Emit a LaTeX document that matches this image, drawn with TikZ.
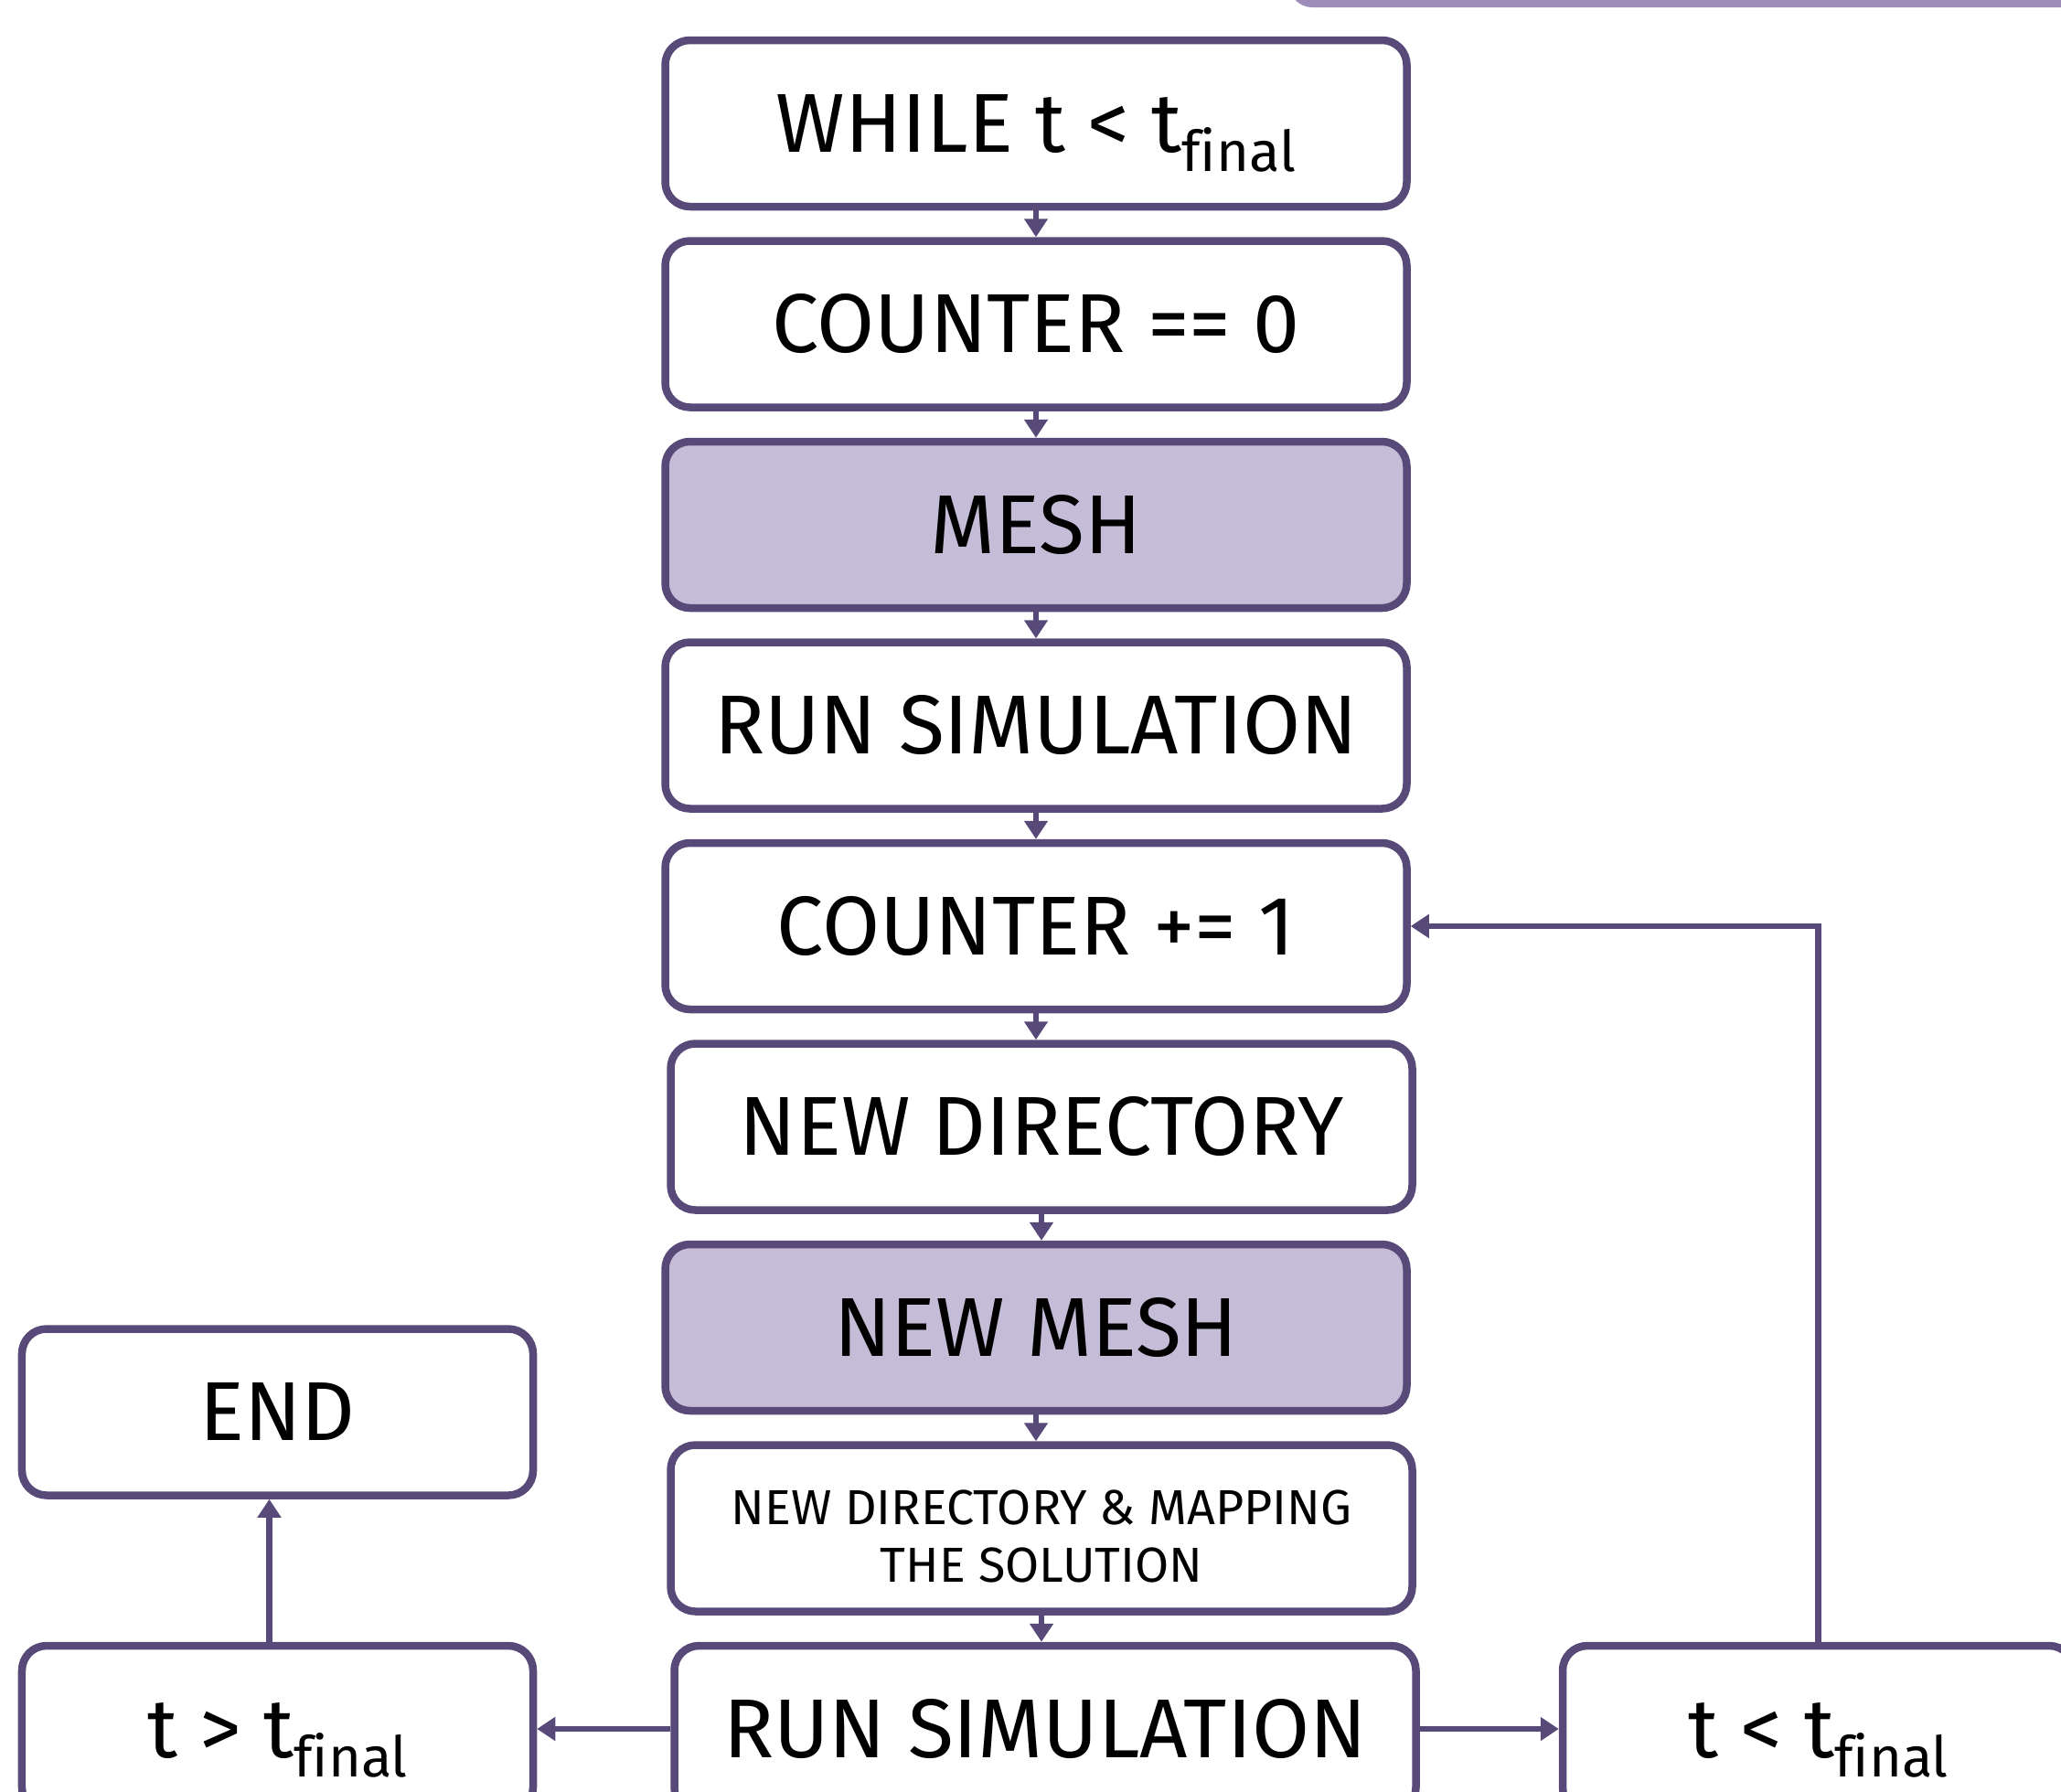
\documentclass[tikz,border=0pt]{standalone}
\usepackage{fontspec}
\setmainfont{Fira Sans}[Ligatures=NoCommon]
\usetikzlibrary{
  arrows.meta,
  positioning,
}
\definecolor{boxline}{HTML}{574A78}
\definecolor{meshfill}{HTML}{C5BDD7}
\definecolor{bannerfill}{HTML}{9E8DBB}

% t with a lowered "final"
\newcommand{\tfin}{t\raisebox{-0.23em}{\fontsize{17.5}{18}\selectfont final}}

\tikzset{
  stepbox/.style={
    rectangle,
    rounded corners=0.27cm,
    line width=0.085cm,
    draw=boxline,
    fill=white,
    minimum width=8.11cm,
    minimum height=1.82cm,
    text height=17.9pt,
    text depth=0pt,
    font=\fontsize{26}{30}\selectfont,
  },
  meshbox/.style={
    stepbox,
    fill=meshfill,
  },
  smallbox/.style={
    rectangle,
    rounded corners=0.27cm,
    line width=0.085cm,
    draw=boxline,
    fill=white,
    minimum width=8.11cm,
    minimum height=1.82cm,
    align=center,
    font=\fontsize{15.3}{18}\selectfont,
  },
  sidebox/.style={
    stepbox,
    minimum width=5.59cm,
  },
  flow/.style={
    line width=0.065cm,
    draw=boxline,
    -{Triangle[length=0.2cm,width=0.25cm]},
  },
}

\begin{document}
\begin{tikzpicture}[node distance=0.29cm]

  \clip (0,0) rectangle (22.54,-19.60);

  % bit of the banner above
  \fill[bannerfill, rounded corners=0.25cm] (14.1,-0.08) rectangle (23.5,1.0);

  % main column
  \node[stepbox] (while) at (11.33,-1.35) {WHILE t < \tfin};
  \node[stepbox, below=of while] (cnt0) {COUNTER == 0};
  \node[meshbox, below=of cnt0] (mesh) {MESH};
  \node[stepbox, below=of mesh] (run1) {RUN SIMULATION};
  \node[stepbox, below=of run1] (cnt1) {COUNTER += 1};
  \node[stepbox, below=of cnt1, xshift=0.06cm] (newdir) {NEW DIRECTORY};
  \node[meshbox, below=of newdir, xshift=-0.06cm] (newmesh) {NEW MESH};
  \node[smallbox, below=of newmesh, xshift=0.06cm] (mapping) {\rule{0pt}{0.56cm}NEW DIRECTORY \& MAPPING\\THE SOLUTION};
  \node[stepbox, below=of mapping, xshift=0.04cm] (run2) {RUN SIMULATION};

  % exits
  \node[sidebox, left=1.46cm of run2] (tgt) {t > \tfin};
  \node[sidebox, above=1.56cm of tgt] (endbox) {END};
  \node[sidebox, right=1.52cm of run2] (tlt) {t < \tfin};

  \foreach \a/\b in {while/cnt0, cnt0/mesh, mesh/run1, run1/cnt1,
                     cnt1/newdir, newdir/newmesh, newmesh/mapping, mapping/run2}
    \draw[flow] (\a.south) -- (\a.south |- \b.north);

  \draw[flow] (run2) -- (tgt);
  \draw[flow] (run2) -- (tlt);
  \draw[flow] ([xshift=-0.09cm]tgt.north) -- ([xshift=-0.09cm]endbox.south);
  \draw[flow] (tlt.north) |- (cnt1.east);

\end{tikzpicture}
\end{document}
